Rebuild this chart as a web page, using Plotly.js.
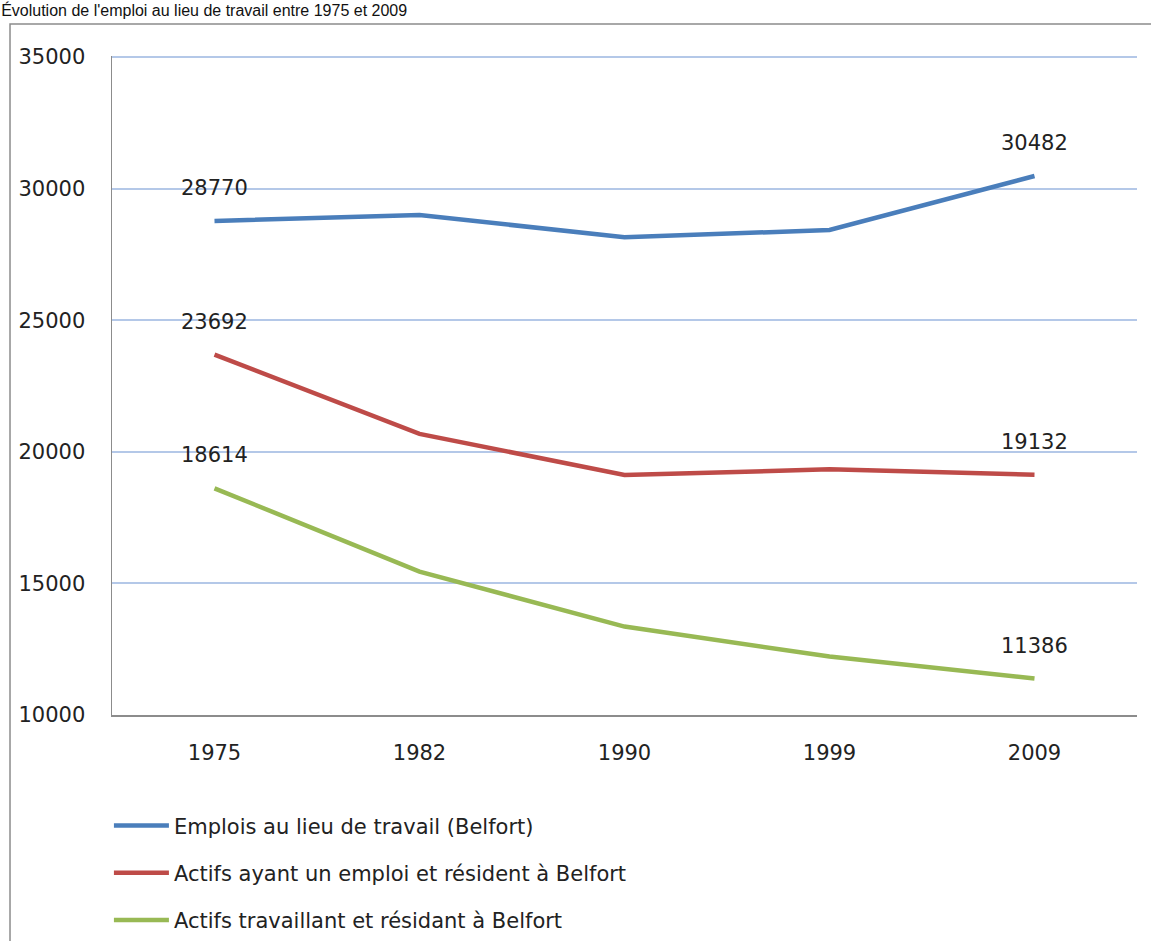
<!DOCTYPE html>
<html><head><meta charset="utf-8">
<script src="https://cdn.plot.ly/plotly-3.0.1.min.js"></script>
<style>html,body{margin:0;padding:0;background:#fff}#chart{width:1151px;height:941px}</style>
</head><body><div id="chart"></div>
<script>
const years = ['1975','1982','1990','1999','2009'];
const emplois = [28770, 29000, 28150, 28430, 30482];
const actifsEmploi = [23692, 20680, 19120, 19335, 19132];
const actifsResidant = [18614, 15450, 13360, 12220, 11386];
const seriesNames = ['Emplois au lieu de travail (Belfort)', 'Actifs ayant un emploi et résident à Belfort', 'Actifs travaillant et résidant à Belfort'];
const colors = ['#4a7ebb', '#be4b48', '#98b954'];
const allSeries = [emplois, actifsEmploi, actifsResidant];
const yTicks = [10000, 15000, 20000, 25000, 30000, 35000];
const FONT = '"DejaVu Sans", Lato, sans-serif';

const traces = allSeries.map((s, i) => ({
  type: 'scatter', mode: 'lines', x: years, y: s, name: seriesNames[i],
  legendgroup: 'g' + i,
  line: {color: colors[i], width: 4.5}, hoverinfo: 'x+y'
}));

const annos = [];
allSeries.forEach(s => {
  [0, s.length - 1].forEach(j => {
    annos.push({x: j, y: s[j], xref: 'x', yref: 'y', text: String(s[j]),
      showarrow: false, yshift: 33, font: {family: FONT, size: 21, color: '#222'}});
  });
});

const layout = {
  width: 1151, height: 941,
  margin: {l: 112, r: 14, t: 56, b: 226, autoexpand: false},
  paper_bgcolor: '#fff', plot_bgcolor: '#fff',
  font: {family: FONT, size: 21, color: '#222'},
  title: {text: "Évolution de l'emploi au lieu de travail entre 1975 et 2009",
    x: 0.001, xanchor: 'left', xref: 'container', y: 0.995, yanchor: 'top', yref: 'container',
    pad: {t: 0, b: 0, l: 0, r: 0},
    font: {family: '"Liberation Sans", Arial, sans-serif', size: 16, color: '#111'}},
  xaxis: {type: 'category', range: [-0.5, 4.5], showgrid: false, zeroline: false, automargin: false,
    showline: true, linecolor: '#8c8c8c', linewidth: 1.5, ticks: '', ticklabelstandoff: 18,
    tickfont: {family: FONT, size: 21, color: '#222'}},
  yaxis: {range: [10000, 35040], tickvals: yTicks, ticktext: yTicks.map(String), automargin: false,
    showgrid: true, gridcolor: '#b4c8e8', gridwidth: 2, zeroline: false,
    showline: true, linecolor: '#8c8c8c', linewidth: 1.5, ticks: '', ticklabelstandoff: 21,
    tickfont: {family: FONT, size: 21, color: '#222'}},
  showlegend: true,
  legend: {orientation: 'v', x: -0.003, xanchor: 'left', y: -0.137, yanchor: 'top',
    traceorder: 'grouped', tracegroupgap: 17, bgcolor: 'rgba(0,0,0,0)', itemwidth: 55,
    font: {family: FONT, size: 21, color: '#222'}},
  annotations: annos,
  shapes: [{type: 'rect', xref: 'paper', yref: 'paper', x0: -0.0995, x1: 1.1, y0: -0.5, y1: 1.0486,
    line: {color: '#8c8c8c', width: 1.5}, fillcolor: 'rgba(0,0,0,0)', layer: 'below'}]
};

Plotly.newPlot('chart', traces, layout, {displayModeBar: false, staticPlot: true});
</script></body></html>
